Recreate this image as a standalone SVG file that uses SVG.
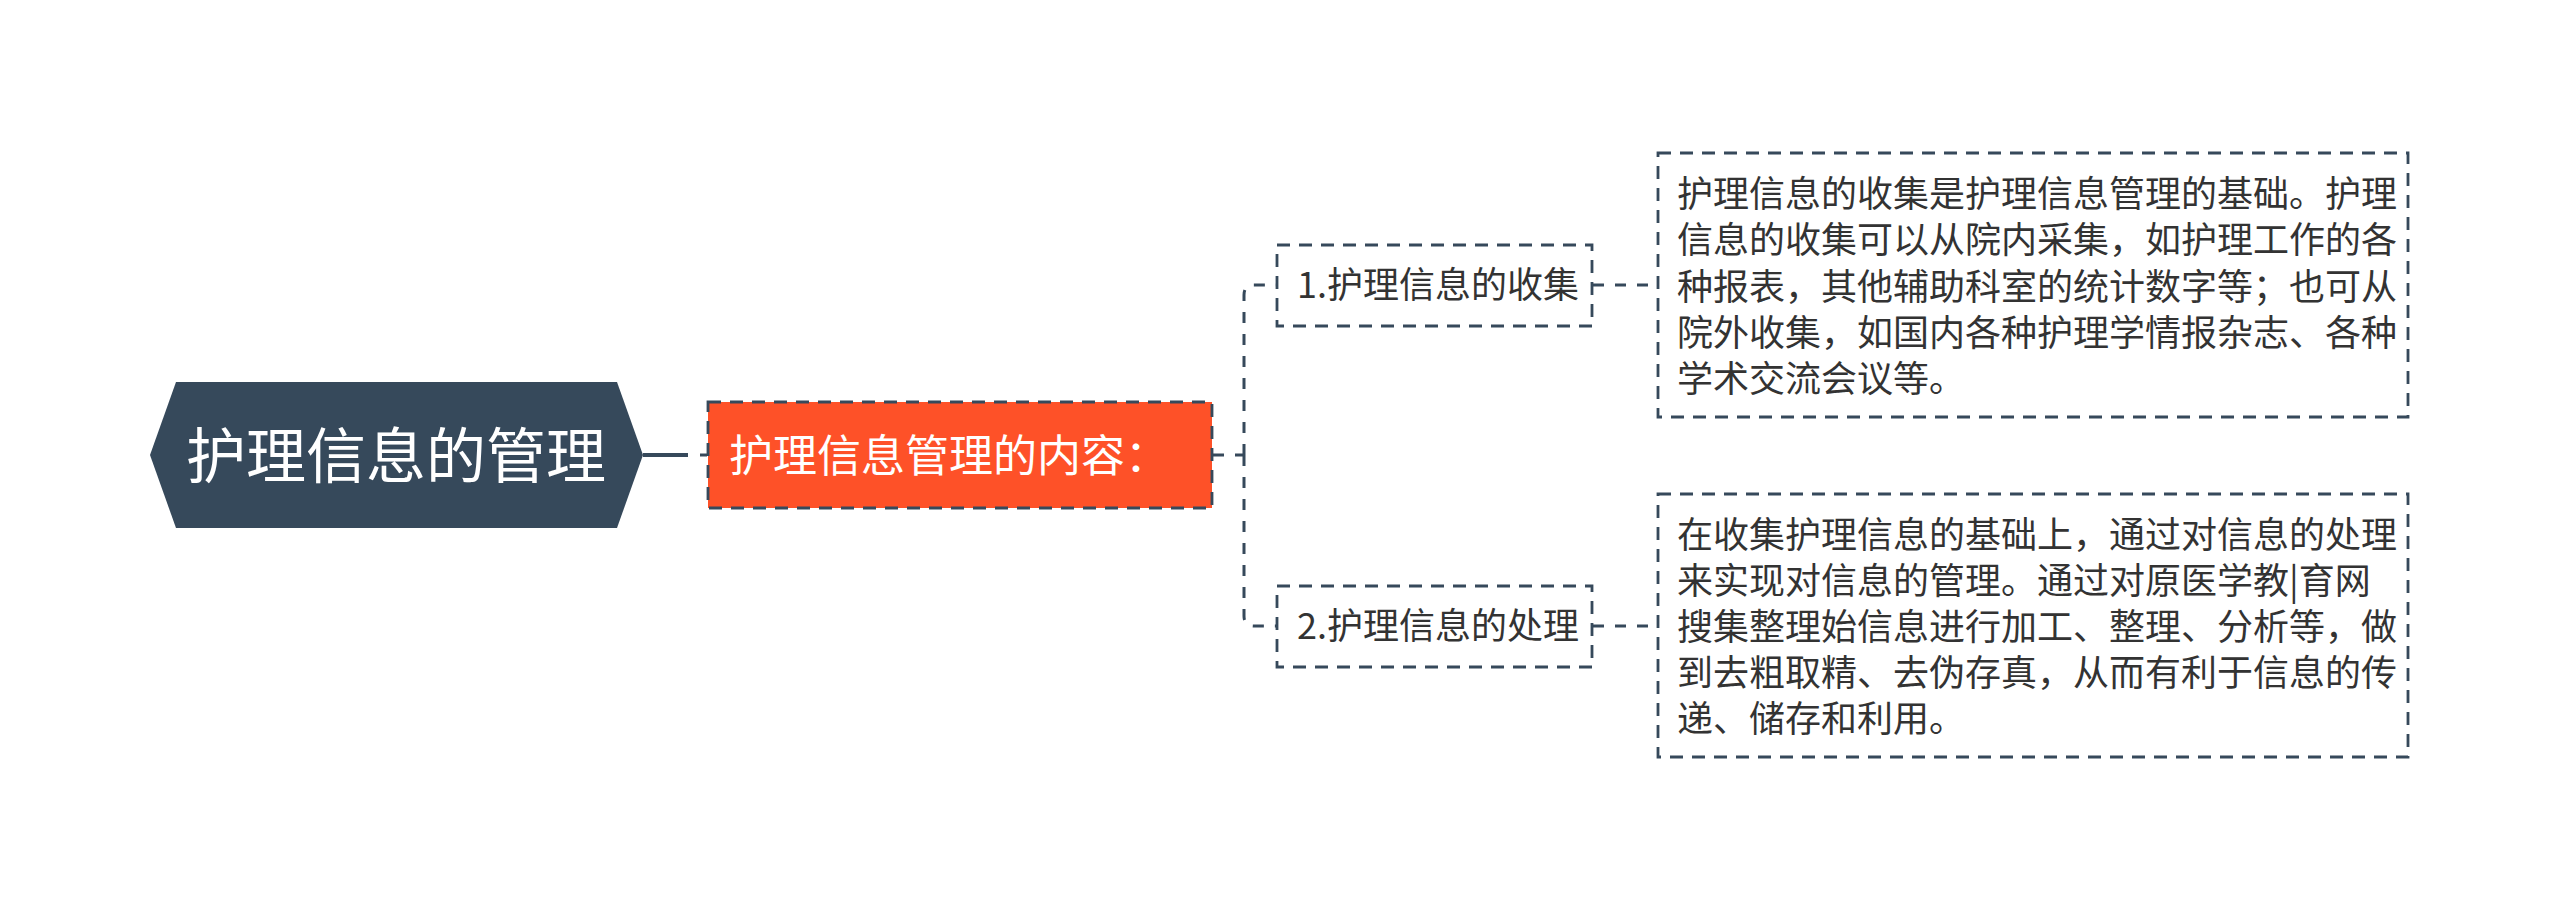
<svg xmlns="http://www.w3.org/2000/svg" width="2560" height="911" viewBox="0 0 2560 911">
<style>
.t{font-family:"Noto Sans CJK SC","Noto Sans",sans-serif;}
.dash{fill:none;stroke:#36495b;stroke-width:2.8;stroke-dasharray:13 9;}
.conn{fill:none;stroke:#36495b;stroke-width:3;stroke-dasharray:11 11;}
.body{font-size:36px;fill:#333333;}
</style>
<rect width="2560" height="911" fill="#ffffff"/>
<g id="connectors">
<path d="M643 455 H688" fill="none" stroke="#36495b" stroke-width="4"/>
<path d="M700 455 H707" fill="none" stroke="#36495b" stroke-width="3"/>
<path class="conn" d="M1213 455 H1244"/>
<path class="conn" d="M1244 455 V295 Q1244 285 1254 285 H1277"/>
<path class="conn" d="M1244 455 V616 Q1244 626 1254 626 H1277"/>
<path class="conn" d="M1593 285 H1658"/>
<path class="conn" d="M1593 626 H1658"/>
</g>
<g id="root">
<polygon points="150,455 176,382 617,382 643,455 617,528 176,528" fill="#36495b"/>
<text class="t" x="186" y="478" font-size="60" fill="#ffffff">护理信息的管理</text>
</g>
<g id="content">
<rect x="708" y="402" width="504" height="106" fill="#fe5128"/>
<rect class="dash" x="708" y="402" width="504" height="106"/>
<text class="t" x="729" y="472" font-size="44" fill="#ffffff">护理信息管理的内容：</text>
</g>
<g id="node1">
<rect class="dash" x="1277" y="245" width="315" height="81"/>
<text class="t body" x="1297" y="298">1.护理信息的收集</text>
</g>
<g id="node2">
<rect class="dash" x="1277" y="586" width="315" height="81"/>
<text class="t body" x="1297" y="639">2.护理信息的处理</text>
</g>
<g id="detail1">
<rect class="dash" x="1658" y="153" width="750" height="264"/>
<text class="t body" x="1677" y="207">护理信息的收集是护理信息管理的基础。护理</text>
<text class="t body" x="1677" y="253">信息的收集可以从院内采集，如护理工作的各</text>
<text class="t body" x="1677" y="300">种报表，其他辅助科室的统计数字等；也可从</text>
<text class="t body" x="1677" y="346">院外收集，如国内各种护理学情报杂志、各种</text>
<text class="t body" x="1677" y="392">学术交流会议等。</text>
</g>
<g id="detail2">
<rect class="dash" x="1658" y="494" width="750" height="263"/>
<text class="t body" x="1677" y="548">在收集护理信息的基础上，通过对信息的处理</text>
<text class="t body" x="1677" y="594">来实现对信息的管理。通过对原医学教|育网</text>
<text class="t body" x="1677" y="640">搜集整理始信息进行加工、整理、分析等，做</text>
<text class="t body" x="1677" y="686">到去粗取精、去伪存真，从而有利于信息的传</text>
<text class="t body" x="1677" y="732">递、储存和利用。</text>
</g>
</svg>
